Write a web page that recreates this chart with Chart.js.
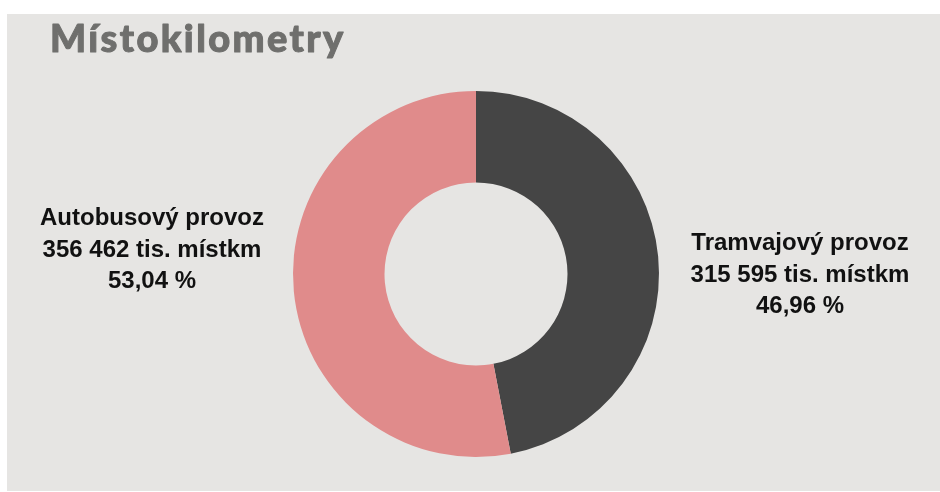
<!DOCTYPE html>
<html>
<head>
<meta charset="utf-8">
<script src="https://cdn.jsdelivr.net/npm/chart.js@4.4.1/dist/chart.umd.min.js"></script>
<style>
  html, body { margin: 0; padding: 0; background: #ffffff; }
  #panel { position: absolute; left: 7px; top: 14px; width: 933px; height: 477px; background: #e6e5e3; }
</style>
</head>
<body>
<div id="panel"><canvas id="mistChart" width="933" height="477"></canvas></div>
<script>
var chartTitle = 'Místokilometry';
var categories = ['Tramvajový provoz', 'Autobusový provoz'];
var values = [315595, 356462];          // tis. místkm
var percents = ['46,96', '53,04'];
var colors = ['#454545', '#e08b8b'];

function fmt(n) {
  return String(n).replace(/\B(?=(\d{3})+(?!\d))/g, ' ');
}

// title top-left + labels on both sides of the ring
var sideLabels = {
  id: 'sideLabels',
  afterDraw: function(chart) {
    var ctx = chart.ctx;
    ctx.save();
    ctx.font = '900 38px Lato, sans-serif';
    ctx.letterSpacing = '2.4px';
    ctx.fillStyle = '#6f6f6d';
    ctx.strokeStyle = '#6f6f6d';
    ctx.lineWidth = 1;
    ctx.lineJoin = 'round';
    ctx.textAlign = 'left';
    ctx.textBaseline = 'alphabetic';
    ctx.fillText(chartTitle, 43, 38);
    ctx.strokeText(chartTitle, 43, 38);
    ctx.restore();

    var meta = chart.getDatasetMeta(0);
    ctx.save();
    ctx.font = 'bold 24px "Liberation Sans", Arial, sans-serif';
    ctx.fillStyle = '#111111';
    ctx.textAlign = 'center';
    ctx.textBaseline = 'alphabetic';
    meta.data.forEach(function(arc, i) {
      var mid = (arc.startAngle + arc.endAngle) / 2;
      var right = Math.cos(mid) > 0;
      var x = arc.x + (right ? 1 : -1) * (arc.outerRadius + 141);
      var y = arc.y + (right ? -24 : -49);
      var lines = [categories[i], fmt(values[i]) + ' tis. místkm', percents[i] + ' %'];
      lines.forEach(function(t, k) {
        ctx.fillText(t, x, y + k * 31.5);
      });
    });
    ctx.restore();
  }
};

var ctx = document.getElementById('mistChart').getContext('2d');
var chart = new Chart(ctx, {
  type: 'doughnut',
  data: {
    labels: categories,
    datasets: [{
      data: values,
      backgroundColor: colors,
      borderWidth: 0,
      hoverOffset: 0
    }]
  },
  options: {
    responsive: false,
    animation: false,
    cutout: '50%',
    layout: {
      padding: { left: 43, right: 38, top: 77, bottom: 34 }
    },
    plugins: {
      legend: { display: false },
      tooltip: { enabled: false },
      title: { display: false }
    }
  },
  plugins: [sideLabels]
});
</script>
</body>
</html>
